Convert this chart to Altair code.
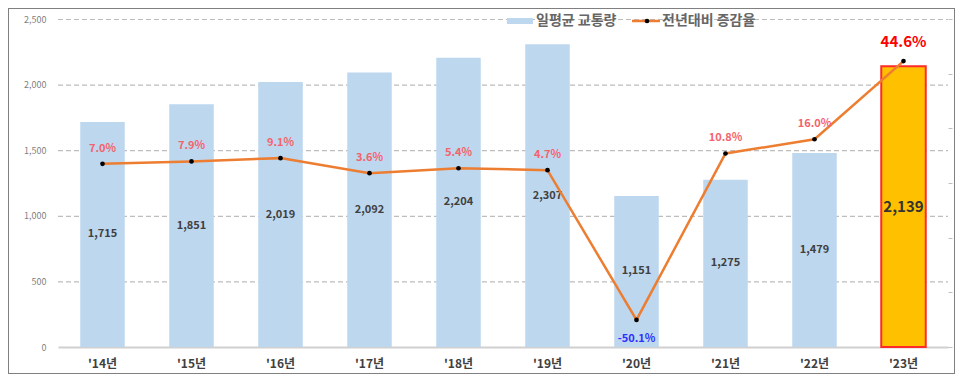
import altair as alt
import pandas as pd

years = ["'14년", "'15년", "'16년", "'17년", "'18년", "'19년", "'20년", "'21년", "'22년", "'23년"]
traffic = [1715, 1851, 2019, 2092, 2204, 2307, 1151, 1275, 1479, 2139]
change = [7.0, 7.9, 9.1, 3.6, 5.4, 4.7, -50.1, 10.8, 16.0, 44.6]
left_ticks = [0, 500, 1000, 1500, 2000, 2500]
right_ticks = [-60, -40, -20, 0, 20, 40, 60]
legend_labels = ["일평균 교통량", "전년대비 증감율"]

FONT = "Noto Sans CJK KR"
HL = "'23년"
LOW = "'20년"

df = pd.DataFrame({"year": years, "traffic": traffic, "change": change})
grid_df = pd.DataFrame({"v": left_ticks[1:]})
one = pd.DataFrame({"k": [0]})

xenc = alt.X(
    "year:N", sort=years,
    scale=alt.Scale(paddingInner=0.5, paddingOuter=0.25),
    axis=alt.Axis(title=None, labelAngle=0, labelFontSize=12, labelFontWeight="bold",
                  labelColor="#404040", labelPadding=11, ticks=False,
                  domainColor="#d0d0d0", domainWidth=2, labelFont=FONT),
)
bar_scale = alt.Scale(domain=[0, 2500], nice=False, zero=True)
pct_scale = alt.Scale(domain=[-60, 60], nice=False, zero=False)
left_axis = alt.Axis(title=None, values=left_ticks, format=",.0f", labelFontSize=9,
                     labelColor="#7f7f7f", ticks=False, domain=False, grid=False,
                     labelPadding=12, labelFont=FONT)
right_axis = alt.Axis(orient="right", title=None, labels=False, ticks=True, tickSize=4,
                      tickColor="#bfbfbf", domain=False, grid=False, values=right_ticks)

is_hl = alt.FieldEqualPredicate(field="year", equal=HL)

gridlines = alt.Chart(grid_df).mark_rule(
    color="#bdbdbd", strokeDash=[5, 3], strokeWidth=1.2, yOffset=0.5
).encode(
    y=alt.Y("v:Q", scale=bar_scale, axis=left_axis),
    x=alt.value(0), x2=alt.value(890),
)

base = alt.Chart(df).transform_calculate(half="datum.traffic / 2")

bars = base.mark_bar().encode(
    x=xenc,
    y=alt.Y("traffic:Q", scale=bar_scale, axis=left_axis),
    color=alt.condition(is_hl, alt.value("#FFC000"), alt.value("#BDD7EE")),
    stroke=alt.condition(is_hl, alt.value("#FF2A2A"), alt.value("#BDD7EE")),
    strokeWidth=alt.condition(is_hl, alt.value(2), alt.value(0)),
)

bar_labels = base.transform_filter(alt.datum.year != HL).mark_text(
    font=FONT, fontSize=11, fontWeight="bold", color="#404040"
).encode(
    x=xenc, y=alt.Y("half:Q", scale=bar_scale, axis=left_axis),
    text=alt.Text("traffic:Q", format=","),
)
bar_label_hl = base.transform_filter(alt.datum.year == HL).mark_text(
    font=FONT, fontSize=15, fontWeight="bold", color="#333333"
).encode(
    x=xenc, y=alt.Y("half:Q", scale=bar_scale, axis=left_axis),
    text=alt.Text("traffic:Q", format=","),
)

bar_layer = alt.layer(gridlines, bars, bar_labels, bar_label_hl)

pbase = alt.Chart(df).transform_calculate(
    lbl="(datum.change < 0 ? '-' : '') + format(abs(datum.change), '.1f') + '%'"
)
line = pbase.mark_line(color="#ED7D31", strokeWidth=2.5).encode(
    x=xenc, y=alt.Y("change:Q", scale=pct_scale, axis=right_axis),
)
points = pbase.mark_point(filled=True, color="black", size=22, opacity=1).encode(
    x=xenc, y=alt.Y("change:Q", scale=pct_scale, axis=right_axis),
)
pct_labels = pbase.transform_filter(
    (alt.datum.year != HL) & (alt.datum.year != LOW)
).mark_text(font=FONT, fontSize=11, fontWeight="bold", color="#F5626C", dy=-15).encode(
    x=xenc, y=alt.Y("change:Q", scale=pct_scale, axis=right_axis), text="lbl:N",
)
pct_hl = pbase.transform_filter(alt.datum.year == HL).mark_text(
    font=FONT, fontSize=15, fontWeight="bold", color="#FF0000", dy=-19
).encode(x=xenc, y=alt.Y("change:Q", scale=pct_scale, axis=right_axis), text="lbl:N")
pct_low = pbase.transform_filter(alt.datum.year == LOW).mark_text(
    font=FONT, fontSize=11, fontWeight="bold", color="#2F2FFF", dy=19
).encode(x=xenc, y=alt.Y("change:Q", scale=pct_scale, axis=right_axis), text="lbl:N")

line_layer = alt.layer(line, points, pct_labels, pct_hl, pct_low)

# legend (drawn manually)
lg = alt.Chart(one)
leg_rect = lg.mark_rect(color="#BDD7EE").encode(
    x=alt.value(449), x2=alt.value(475), y=alt.value(-1), y2=alt.value(5))
leg_t1 = lg.mark_text(font=FONT, fontSize=14, fontWeight="bold", color="#666666",
                      align="left", baseline="middle").encode(
    x=alt.value(478), y=alt.value(2), text=alt.value(legend_labels[0]))
leg_line = lg.mark_rule(color="#ED7D31", strokeWidth=2.5).encode(
    x=alt.value(574), x2=alt.value(602), y=alt.value(2))
leg_dot = lg.mark_point(filled=True, color="black", size=22, opacity=1).encode(
    x=alt.value(589), y=alt.value(2))
leg_t2 = lg.mark_text(font=FONT, fontSize=14, fontWeight="bold", color="#666666",
                      align="left", baseline="middle").encode(
    x=alt.value(604), y=alt.value(2), text=alt.value(legend_labels[1]))

border = lg.mark_rect(fillOpacity=0, stroke="black", strokeDash=[1, 1], strokeWidth=1).encode(
    x=alt.value(-49.5), x2=alt.value(896.5), y=alt.value(-10.5), y2=alt.value(354.5))

chart = alt.layer(
    bar_layer, line_layer, leg_rect, leg_t1, leg_line, leg_dot, leg_t2, border
).resolve_scale(y="independent").properties(
    width=890, height=328,
    padding={"left": 50, "right": 7, "top": 11, "bottom": 27},
    autosize="none",
).configure_view(stroke=None)

chart.save("out.html", embed_options={"renderer": "svg", "actions": False})
